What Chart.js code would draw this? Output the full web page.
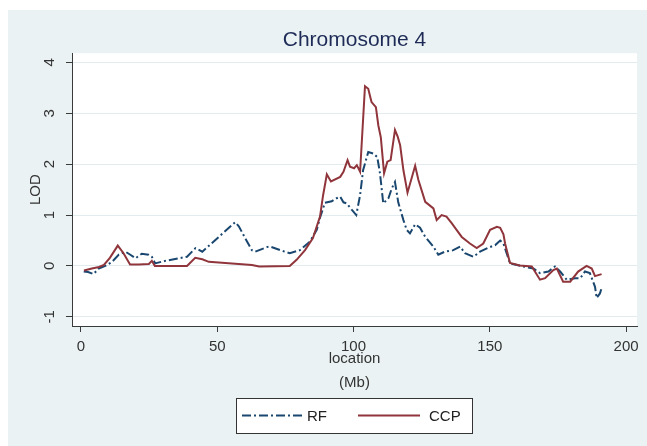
<!DOCTYPE html>
<html>
<head>
<meta charset="utf-8">
<script src="https://cdn.jsdelivr.net/npm/chart.js@4.4.1/dist/chart.umd.min.js"></script>
<style>
  html, body { margin: 0; padding: 0; background: #ffffff; }
  #wrap { position: absolute; left: 8px; top: 10px; width: 639px; height: 436px; }
  canvas { display: block; }
</style>
</head>
<body>
<div id="wrap"><canvas id="c" width="639" height="436"></canvas></div>
<script>
// ---- data (location in Mb, LOD) ----
const rfX = [1.0, 2.6, 4.6, 6.5, 8.9, 11.4, 13.8, 16.3, 18.1, 20.0, 22.3, 24.8, 26.0, 27.2, 30.9, 35.8, 38.9, 42.0, 44.5,
  56.6, 57.9, 60.3, 62.7, 63.9, 68.2, 69.4, 73.1, 76.6, 80.3, 84.0, 86.5, 87.7, 89.5, 92.0, 93.8, 95.1, 96.3, 97.5,
  99.4, 101.0, 102.4, 103.5, 105.4, 107.2, 108.7, 109.7, 110.9, 112.8, 114.0, 115.2, 116.4, 118.3, 119.5, 120.7,
  122.6, 124.4, 126.3, 129.3, 131.1, 133.5, 136.6, 139.1, 140.9, 144.0, 146.4, 149.5, 152.0, 153.8, 155.0, 157.4,
  162.3, 166.0, 168.4, 171.5, 173.9, 175.8, 178.2, 181.3, 183.2, 184.9, 186.7, 188.6, 189.2, 190.4, 191.0];
const rfY = [-0.11, -0.12, -0.16, -0.05, 0.00, 0.08, 0.22, 0.28, 0.22, 0.15, 0.24, 0.22, 0.18, 0.05, 0.10, 0.15, 0.18, 0.35, 0.28,
  0.86, 0.78, 0.54, 0.31, 0.28, 0.37, 0.38, 0.31, 0.25, 0.31, 0.48, 0.71, 0.95, 1.24, 1.27, 1.33, 1.36, 1.25, 1.23,
  1.10, 1.00, 1.39, 1.88, 2.24, 2.21, 2.14, 1.82, 1.23, 1.33, 1.52, 1.65, 1.25, 0.90, 0.71, 0.64,
  0.82, 0.75, 0.57, 0.38, 0.22, 0.28, 0.31, 0.38, 0.25, 0.18, 0.28, 0.36, 0.41, 0.50, 0.44, 0.05,
  -0.01, -0.05, -0.14, -0.11, -0.01, -0.11, -0.27, -0.24, -0.24, -0.11, -0.14, -0.41, -0.63, -0.54, -0.44];

const ccpX = [1.1, 4.0, 6.6, 8.4, 10.6, 13.5, 15.6, 18.0, 21.2, 24.9, 26.0, 27.1, 38.9, 41.9, 44.5, 46.9, 55.4, 62.7, 65.4,
  76.6, 79.1, 82.2, 85.1, 87.7, 88.8, 90.2, 91.7, 95.1, 96.3, 97.8, 98.7, 100.2, 101.2, 102.4, 104.2, 105.4, 106.0,
  106.6, 108.2, 109.1, 110.0, 111.2, 112.4, 113.6, 115.2, 116.2, 117.1, 118.3, 119.8, 122.6, 123.8, 126.3, 129.3,
  130.5, 132.3, 134.1, 136.0, 137.8, 139.7, 142.7, 145.2, 147.6, 150.1, 152.6, 153.8, 155.0, 155.6, 157.4, 161.0,
  165.4, 168.4, 170.3, 173.3, 174.6, 176.9, 179.5, 182.4, 185.5, 187.4, 188.6, 191.0];
const ccpY = [-0.09, -0.05, -0.02, 0.02, 0.16, 0.40, 0.25, 0.03, 0.03, 0.04, 0.10, 0.00, 0.00, 0.16, 0.13, 0.08, 0.05, 0.02, -0.01,
  0.00, 0.12, 0.31, 0.55, 0.97, 1.38, 1.80, 1.66, 1.75, 1.85, 2.08, 1.95, 1.92, 1.98, 1.85, 3.53, 3.48, 3.35,
  3.22, 3.12, 2.76, 2.53, 1.82, 2.05, 2.08, 2.67, 2.54, 2.37, 1.88, 1.44, 1.97, 1.69, 1.26, 1.13,
  0.90, 1.00, 0.97, 0.84, 0.71, 0.57, 0.44, 0.35, 0.44, 0.71, 0.77, 0.75, 0.62, 0.44, 0.06, 0.01,
  -0.01, -0.27, -0.24, -0.08, -0.05, -0.31, -0.31, -0.11, 0.00, -0.05, -0.20, -0.16];

const seriesNames = ['RF', 'CCP'];
const xTicks = [0, 50, 100, 150, 200];
const yTicks = [-1, 0, 1, 2, 3, 4];
const chartTitle = 'Chromosome 4';
const xTitle = ['location', '(Mb)'];
const yTitle = 'LOD';

const toPts = (xs, ys) => xs.map((x, i) => ({ x: x, y: ys[i] }));

const FONT = "'Liberation Sans', Arial, Helvetica, sans-serif";
const TXT = '#333333';
const AX = '#3a3a3a';

const bgPlugin = {
  id: 'bg',
  beforeDraw(chart) {
    const { ctx, chartArea: a } = chart;
    ctx.save();
    ctx.fillStyle = '#eaf2f3';
    ctx.fillRect(0, 0, chart.width, chart.height);
    ctx.fillStyle = '#ffffff';
    ctx.fillRect(a.left, a.top, a.right - a.left, a.bottom - a.top);
    ctx.restore();
  }
};

const legendPlugin = {
  id: 'stataLegend',
  afterDraw(chart) {
    const ctx = chart.ctx;
    const ds = chart.data.datasets;
    const bx = 228, by = 388, bw = 236, bh = 35;
    ctx.save();
    ctx.fillStyle = '#ffffff';
    ctx.fillRect(bx, by, bw, bh);
    ctx.strokeStyle = '#333333';
    ctx.lineWidth = 1;
    ctx.strokeRect(bx + 0.5, by + 0.5, bw, bh);
    const cy = by + bh / 2;
    const items = [
      { ds: ds[0], x0: 234, x1: 294, tx: 299 },
      { ds: ds[1], x0: 350, x1: 412, tx: 421 }
    ];
    items.forEach(it => {
      ctx.beginPath();
      ctx.setLineDash(it.ds.borderDash || []);
      ctx.strokeStyle = it.ds.borderColor;
      ctx.lineWidth = it.ds.borderWidth;
      ctx.moveTo(it.x0, cy);
      ctx.lineTo(it.x1, cy);
      ctx.stroke();
      ctx.setLineDash([]);
      ctx.fillStyle = '#222222';
      ctx.font = '15px ' + FONT;
      ctx.textBaseline = 'middle';
      ctx.textAlign = 'left';
      ctx.fillText(it.ds.label, it.tx, cy + 1);
    });
    ctx.restore();
  }
};

new Chart(document.getElementById('c'), {
  type: 'line',
  data: {
    datasets: [
      {
        label: seriesNames[0],
        data: toPts(rfX, rfY),
        borderColor: '#1a476f',
        borderWidth: 2,
        borderDash: [9, 3, 2, 3],
        pointRadius: 0,
        tension: 0,
        fill: false,
        order: 1
      },
      {
        label: seriesNames[1],
        data: toPts(ccpX, ccpY),
        borderColor: '#90353b',
        borderWidth: 2,
        pointRadius: 0,
        tension: 0,
        fill: false,
        order: 0
      }
    ]
  },
  options: {
    responsive: false,
    devicePixelRatio: 1,
    animation: false,
    layout: { padding: { left: 0, right: 10, top: 0, bottom: 40 } },
    plugins: {
      legend: { display: false },
      tooltip: { enabled: false },
      title: {
        display: true,
        text: chartTitle,
        fullSize: false,
        color: '#1e2b57',
        font: { family: FONT, size: 21, weight: 'normal', lineHeight: 1.2 },
        padding: { top: 18, bottom: 0 }
      }
    },
    scales: {
      x: {
        type: 'linear',
        position: 'bottom',
        min: -3.3,
        max: 204,
        afterFit(s) { s.height = 80; },
        afterBuildTicks(s) { s.ticks = xTicks.map(v => ({ value: v })); },
        ticks: {
          stepSize: 50,
          includeBounds: false,
          maxRotation: 0,
          minRotation: 0,
          padding: 6,
          color: TXT,
          font: { family: FONT, size: 15 },
          callback: v => String(v)
        },
        grid: { drawOnChartArea: false, drawTicks: true, tickLength: 6, tickColor: AX, tickWidth: 1 },
        border: { display: true, color: AX, width: 1 },
        title: {
          display: true,
          text: xTitle,
          color: TXT,
          font: { family: FONT, size: 15, lineHeight: 24 / 15 },
          padding: { top: 0, bottom: 11 }
        }
      },
      y: {
        type: 'linear',
        position: 'left',
        min: -1.18,
        max: 4.18,
        afterFit(s) { s.width = 64; },
        afterBuildTicks(s) { s.ticks = yTicks.map(v => ({ value: v })); },
        ticks: {
          stepSize: 1,
          includeBounds: false,
          minRotation: 90,
          maxRotation: 90,
          crossAlign: 'center',
          padding: 9,
          color: TXT,
          font: { family: FONT, size: 15 },
          callback: v => String(v)
        },
        grid: { drawOnChartArea: true, color: '#e2ecef', lineWidth: 1, drawTicks: true, tickLength: 6, tickColor: AX, tickWidth: 1 },
        border: { display: true, color: AX, width: 1 },
        title: {
          display: true,
          text: yTitle,
          color: TXT,
          font: { family: FONT, size: 15, lineHeight: 1.2 },
          padding: { top: 19, bottom: 0 }
        }
      }
    }
  },
  plugins: [bgPlugin, legendPlugin]
});
</script>
</body>
</html>
